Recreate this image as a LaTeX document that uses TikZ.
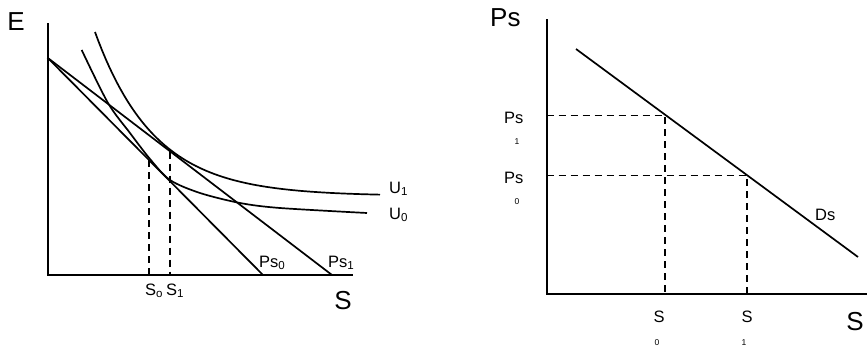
\documentclass[tikz,border=0pt]{standalone}
\usepackage{fontspec}
\setmainfont{Liberation Sans}
\usetikzlibrary{positioning}

\begin{document}
\begin{tikzpicture}[x=1pt,y=-1pt,
    axis/.style={line width=2pt},
    curve/.style={line width=1.7pt},
    guide/.style={line width=1.7pt,dash pattern=on 7pt off 5pt},
    big/.style={font=\fontsize{26}{30}\selectfont,inner sep=0pt},
    lab/.style={font=\fontsize{16.5}{19}\selectfont,inner sep=0pt},
    tiny/.style={font=\fontsize{8.5}{10}\selectfont,inner sep=0pt}
  ]
  \useasboundingbox (0,0) rectangle (867,348);
  % left panel
  \coordinate (o1) at (47.5,275);
  \coordinate (ytop1) at (47.5,23);
  \coordinate (xend1) at (353,275);
  \coordinate (e0) at (47.5,57.7);
  \coordinate (ps0end) at (263,275);
  \coordinate (ps1end) at (332,275);
  \coordinate (t0) at (149,160.3);
  \coordinate (t1) at (170,151.5);
  \draw[axis] (ytop1) -- (o1) -- (xend1);
  \draw[curve] (e0) -- (ps0end);
  \draw[curve] (e0) -- (ps1end);
  \draw[curve] plot[smooth] coordinates {(81.7,50) (108,103) (130,133) (150,159)
    (170,180) (200,193) (240,203) (280,208) (367,213)};
  \draw[curve] plot[domain=95:380,samples=80] (\x,{196-164*exp(-(\x-95)/59.4)});
  \draw[guide] (t0) -- (t0 |- o1);
  \draw[guide] (t1) -- (t1 |- o1);
  \node[big] (elab) at (16,22) {E};
  \node[big] (slab1) at (343,301) {S};
  \node[lab,anchor=base west] (ps0lab) at (259,267) {Ps\textsubscript{0}};
  \node[lab,anchor=base west] (ps1lab) at (328,267) {Ps\textsubscript{1}};
  \node[lab,anchor=base west] (s0lab) at (145,295) {S\textsubscript{o}};
  \node[lab,anchor=base west] (s1lab) at (166,295) {S\textsubscript{1}};
  \node[lab,anchor=base west] (u1lab) at (389,193) {U\textsubscript{1}};
  \node[lab,anchor=base west] (u0lab) at (389,219) {U\textsubscript{0}};
  % right panel
  \coordinate (o2) at (546.5,294);
  \coordinate (ytop2) at (546.5,19);
  \coordinate (xend2) at (867,294);
  \coordinate (dsa) at (576,49);
  \coordinate (dsb) at (858,257);
  \coordinate (p1) at (665,115.5);
  \coordinate (p0) at (747,175.5);
  \draw[axis] (ytop2) -- (o2) -- (xend2);
  \draw[curve] (dsa) -- (dsb);
  \draw[guide] (o2 |- p1) -- (p1) -- (p1 |- o2);
  \draw[guide] (o2 |- p0) -- (p0) -- (p0 |- o2);
  \node[big,anchor=base west] (pslab) at (490,27) {Ps};
  \node[big] (slab2) at (855,322) {S};
  \node[lab,anchor=base west] (dslab) at (815,220) {Ds};
  \node[lab,anchor=base west] (pp1lab) at (504,123) {Ps};
  \node[tiny] (pp1sub) at (517,142) {1};
  \node[lab,anchor=base west] (pp0lab) at (504,183) {Ps};
  \node[tiny] (pp0sub) at (517,202) {0};
  \node[lab] (q0lab) at (659,316.5) {S};
  \node[tiny] (q0sub) at (657,343) {0};
  \node[lab] (q1lab) at (747,316.5) {S};
  \node[tiny] (q1sub) at (744,343) {1};
\end{tikzpicture}
\end{document}
